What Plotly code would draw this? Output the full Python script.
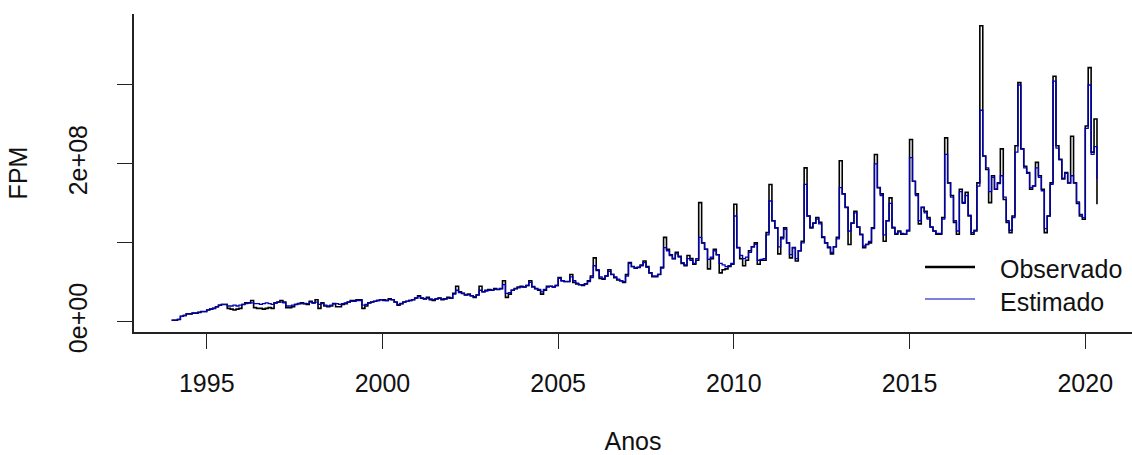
import plotly.graph_objects as go

# FPM mensal (milhões de R$), jan/1994 a mai/2020
start_year = 1994

observado = [
    2, 2, 3, 7, 8, 10, 10, 11, 11, 12, 13, 13,             # 1994
    15, 16, 17, 19, 21, 22, 22, 17, 16, 15, 16, 17,        # 1995
    22, 24, 24, 27, 18, 17, 17, 16, 17, 18, 17, 24,        # 1996
    25, 27, 25, 18, 18, 19, 22, 23, 24, 23, 22, 26,        # 1997
    24, 28, 17, 24, 20, 19, 20, 23, 19, 19, 22, 23,        # 1998
    25, 27, 27, 28, 28, 17, 20, 24, 25, 26, 27, 28,        # 1999
    28, 27, 29, 28, 25, 21, 23, 25, 26, 27, 28, 30,        # 2000
    33, 30, 29, 31, 28, 27, 29, 30, 28, 29, 31, 30,        # 2001
    36, 45, 38, 36, 34, 35, 33, 31, 34, 45, 38, 40,        # 2002
    41, 40, 42, 41, 42, 52, 31, 35, 40, 42, 44, 45,        # 2003
    44, 46, 52, 44, 42, 40, 35, 40, 45, 45, 44, 46,        # 2004
    56, 52, 51, 51, 60, 50, 48, 47, 46, 48, 52, 58,        # 2005
    81, 65, 55, 54, 58, 66, 60, 56, 53, 52, 50, 60,        # 2006
    75, 70, 68, 69, 72, 77, 70, 62, 57, 57, 60, 69,        # 2007
    107, 92, 85, 80, 88, 83, 74, 71, 84, 80, 73, 78,       # 2008
    151, 100, 92, 67, 80, 92, 85, 62, 66, 67, 70, 73,      # 2009
    149, 94, 80, 71, 78, 90, 95, 100, 73, 78, 78, 113,     # 2010
    174, 128, 119, 86, 107, 119, 100, 81, 94, 77, 90, 102, # 2011
    195, 134, 119, 125, 132, 126, 107, 100, 94, 86, 95, 107,   # 2012
    204, 162, 145, 98, 125, 140, 120, 111, 94, 98, 100, 119,   # 2013
    212, 170, 162, 102, 128, 157, 119, 111, 115, 111, 111, 115,  # 2014
    231, 178, 162, 124, 145, 140, 132, 120, 115, 111, 111, 132,  # 2015
    233, 176, 160, 126, 111, 168, 151, 164, 134, 111, 115, 176,  # 2016
    375, 210, 193, 151, 185, 168, 176, 219, 155, 126, 113, 134,  # 2017
    223, 303, 219, 197, 189, 168, 172, 202, 185, 168, 113, 134,  # 2018
    176, 311, 223, 206, 181, 189, 176, 235, 176, 150, 134, 130,  # 2019
    248, 322, 215, 257, 149,                                     # 2020
]

estimado = [
    2, 2, 3, 7, 8, 10, 10, 11, 11, 12, 13, 13,             # 1994
    15, 16, 17, 19, 21, 22, 22, 20, 20, 21, 20, 21,        # 1995
    22, 23, 24, 24, 23, 23, 22, 23, 24, 23, 22, 24,        # 1996
    25, 25, 24, 20, 20, 21, 22, 23, 23, 23, 23, 25,        # 1997
    24, 25, 22, 23, 21, 20, 21, 23, 23, 22, 23, 24,        # 1998
    25, 26, 26, 27, 27, 21, 22, 24, 25, 26, 27, 28,        # 1999
    27, 27, 28, 28, 25, 22, 23, 25, 26, 27, 28, 30,        # 2000
    32, 30, 29, 30, 29, 28, 29, 30, 29, 29, 30, 30,        # 2001
    35, 40, 37, 36, 34, 34, 33, 32, 34, 40, 38, 39,        # 2002
    40, 40, 41, 41, 42, 47, 36, 37, 40, 42, 43, 44,        # 2003
    44, 46, 50, 45, 42, 41, 38, 41, 44, 45, 44, 46,        # 2004
    55, 52, 51, 51, 57, 52, 49, 47, 47, 48, 51, 56,        # 2005
    71, 66, 57, 55, 58, 64, 60, 57, 54, 52, 51, 58,        # 2006
    74, 70, 68, 69, 71, 75, 69, 62, 58, 58, 60, 68,        # 2007
    94, 90, 84, 80, 86, 82, 75, 72, 80, 78, 74, 80,        # 2008
    107, 100, 92, 79, 82, 90, 85, 74, 72, 70, 71, 74,      # 2009
    134, 94, 84, 80, 82, 88, 95, 98, 78, 79, 80, 110,      # 2010
    153, 128, 119, 95, 105, 117, 100, 85, 94, 80, 90, 100, # 2011
    174, 134, 120, 125, 130, 124, 108, 100, 95, 88, 95, 105,   # 2012
    170, 162, 145, 115, 125, 138, 120, 110, 96, 98, 102, 118,  # 2013
    200, 170, 160, 110, 128, 150, 120, 112, 114, 112, 111, 116,  # 2014
    208, 178, 160, 128, 145, 138, 130, 120, 115, 112, 112, 130,  # 2015
    212, 176, 158, 128, 115, 165, 150, 160, 135, 113, 116, 172,  # 2016
    268, 210, 195, 165, 183, 168, 175, 185, 158, 128, 116, 132,  # 2017
    215, 300, 219, 195, 188, 170, 172, 195, 183, 166, 118, 134,  # 2018
    174, 305, 220, 205, 182, 188, 176, 185, 176, 152, 136, 132,  # 2019
    245, 300, 212, 222, 181,                                     # 2020
]

x_ticks = [1995, 2000, 2005, 2010, 2015, 2020]
y_ticks = [0, 1e8, 2e8, 3e8]
y_tick_text = ["0e+00", "", "2e+08", ""]

tempo = [start_year + i / 12 for i in range(len(observado))]
obs = [v * 1e6 for v in observado]
est = [v * 1e6 for v in estimado]

# R-style 4% padding around the value range
ymin, ymax = min(obs + est), max(obs + est)
ypad = 0.04 * (ymax - ymin)
x_range = [1992.93, 2021.33]

FONT = "Arial, 'Liberation Sans', sans-serif"
INK = "#111111"
BLUE = "#0000BB"
FS = 25

fig = go.Figure()
fig.add_trace(go.Scatter(x=tempo, y=obs, mode="lines", name="Observado",
                         line=dict(color="black", width=1.6, shape="hv")))
fig.add_trace(go.Scatter(x=tempo, y=est, mode="lines", name="Estimado",
                         line=dict(color=BLUE, width=1.3, shape="hv")))

axis_common = dict(
    showgrid=False, zeroline=False, showline=True, linecolor="#222222",
    linewidth=1.5, ticks="outside", ticklen=15, tickwidth=1.3,
    tickcolor="#222222", tickfont=dict(family=FONT, size=FS, color=INK),
    mirror=False,
)

fig.update_layout(
    width=1132, height=455,
    margin=dict(l=134, r=0, t=14, b=123),
    paper_bgcolor="white", plot_bgcolor="white",
    showlegend=False,
    font=dict(family=FONT, size=FS, color=INK),
    xaxis=dict(range=x_range, tickvals=x_ticks,
               ticktext=[str(t) for t in x_ticks], ticklabelstandoff=13,
               title=dict(text="Anos", font=dict(family=FONT, size=FS, color=INK),
                          standoff=40),
               **axis_common),
    yaxis=dict(range=[ymin - ypad, ymax + ypad], tickvals=y_ticks,
               ticktext=y_tick_text, tickangle=-90, ticklabelstandoff=20,
               title=dict(text="FPM", font=dict(family=FONT, size=FS, color=INK),
                          standoff=30),
               **axis_common),
)

# legend drawn R-style: no box, long line samples, bottom-right of the panel
legend_items = [("Observado", "black", 2.6, 0.2044, 0.1981),
                ("Estimado", BLUE, 1.2, 0.1038, 0.0953)]
for label, color, lw, ly, ty in legend_items:
    fig.add_shape(type="line", xref="paper", yref="paper",
                  x0=0.7926, x1=0.8427, y0=ly, y1=ly,
                  line=dict(color=color, width=lw))
    fig.add_annotation(text=label, xref="paper", yref="paper", x=0.8657, y=ty,
                       xanchor="left", yanchor="middle", showarrow=False,
                       font=dict(family=FONT, size=FS, color=INK))

fig.write_html("out.html")
